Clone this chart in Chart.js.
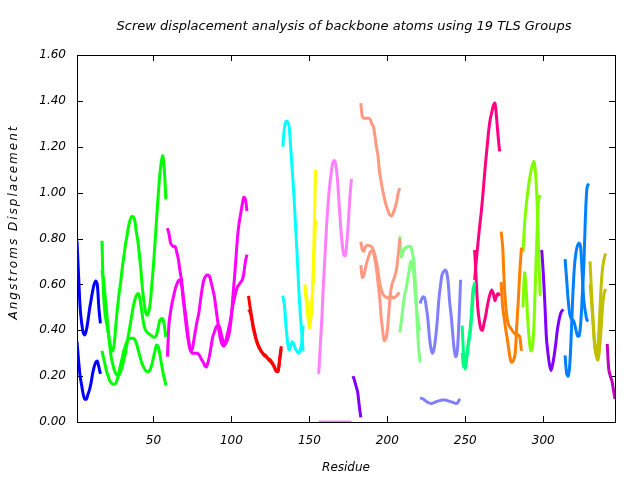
<!DOCTYPE html>
<html>
<head>
<meta charset="utf-8">
<script src="https://cdn.jsdelivr.net/npm/chart.js@4.4.1/dist/chart.umd.min.js"></script>
<style>
  html, body { margin: 0; padding: 0; background: #fff; }
  #wrap { width: 640px; height: 480px; }
</style>
</head>
<body>
<div id="wrap"><canvas id="chart"></canvas></div>
<script>
// texts and tick labels
const titleText = "Screw displacement analysis of backbone atoms using 19 TLS Groups"
const xTitle = "Residue"
const yTitle = "Angstroms Displacement"
const xTicks = [50, 100, 150, 200, 250, 300]
const yTicks = [0, 0.2, 0.4, 0.6, 0.8, 1.0, 1.2, 1.4, 1.6]

// group 1 (blue)
const res1 = [1,2,3,4,5,6,7,8,9,10,11,12,13,14,15,16]
const g1a = [0.79,0.64,0.50,0.43,0.39,0.38,0.40,0.44,0.49,0.53,0.57,0.60,0.615,0.60,0.50,0.43]
const g1b = [0.35,0.27,0.20,0.16,0.12,0.10,0.10,0.12,0.14,0.17,0.21,0.24,0.26,0.265,0.24,0.21]

// group 2 (green)
const res2 = [17,18,19,20,21,22,23,24,25,26,27,28,29,30,31,32,33,34,35,36,37,38,39,40,41,42,43,44,45,46,47,48,49,50,51,52,53,54,55,56,57,58]
const g2a = [0.79,0.56,0.47,0.43,0.39,0.35,0.315,0.31,0.35,0.43,0.50,0.56,0.61,0.67,0.72,0.77,0.81,0.85,0.88,0.895,0.895,0.88,0.83,0.79,0.73,0.66,0.58,0.52,0.48,0.465,0.48,0.52,0.60,0.68,0.78,0.88,0.98,1.07,1.13,1.16,1.10,0.97]
const g2b = [0.66,0.62,0.55,0.48,0.40,0.335,0.28,0.25,0.225,0.21,0.205,0.205,0.22,0.24,0.27,0.30,0.34,0.38,0.42,0.46,0.50,0.53,0.55,0.56,0.55,0.51,0.46,0.42,0.40,0.39,0.385,0.38,0.375,0.37,0.37,0.38,0.41,0.44,0.45,0.45,0.42,0.37]
const g2c = [0.31,0.28,0.25,0.22,0.20,0.18,0.17,0.165,0.165,0.17,0.19,0.22,0.25,0.28,0.31,0.33,0.35,0.36,0.365,0.365,0.365,0.36,0.345,0.32,0.295,0.27,0.25,0.235,0.225,0.22,0.22,0.23,0.25,0.28,0.31,0.335,0.33,0.30,0.26,0.22,0.19,0.16]

// group 3 (magenta)
const res3 = [59,60,61,62,63,64,65,66,67,68,69,70,71,72,73,74,75,76,77,78,79,80,81,82,83,84,85,86,87,88,89,90,91,92,93,94,95,96,97,98,99,100,101,102,103,104,105,106,107,108,109,110]
const g3a = [0.845,0.82,0.78,0.77,0.765,0.764,0.74,0.71,0.66,0.62,0.56,0.50,0.45,0.39,0.34,0.31,0.30,0.30,0.30,0.30,0.295,0.285,0.27,0.26,0.245,0.24,0.26,0.29,0.33,0.37,0.39,0.41,0.42,0.42,0.40,0.37,0.35,0.34,0.35,0.37,0.40,0.46,0.55,0.63,0.72,0.81,0.87,0.91,0.95,0.98,0.97,0.92]
const g3b = [0.285,0.43,0.48,0.52,0.55,0.58,0.60,0.615,0.62,0.60,0.54,0.48,0.42,0.37,0.33,0.31,0.32,0.36,0.40,0.44,0.47,0.52,0.57,0.61,0.63,0.64,0.64,0.635,0.61,0.58,0.55,0.50,0.45,0.40,0.36,0.34,0.33,0.34,0.37,0.40,0.43,0.47,0.51,0.54,0.57,0.59,0.60,0.61,0.62,0.65,0.70,0.73]

// group 4 (red)
const res4 = [111,112,113,114,115,116,117,118,119,120,121,122,123,124,125,126,127,128,129,130,131,132]
const g4a = [0.55,0.50,0.46,0.42,0.39,0.36,0.34,0.325,0.31,0.30,0.295,0.29,0.28,0.275,0.27,0.26,0.25,0.235,0.22,0.22,0.28,0.33]
const g4b = [0.49,0.48,0.45,0.41,0.38,0.355,0.335,0.32,0.31,0.30,0.29,0.285,0.28,0.27,0.265,0.255,0.245,0.23,0.22,0.225,0.27,0.32]

// group 5 (cyan)
const res5 = [133,134,135,136,137,138,139,140,141,142,143,144,145,146]
const g5a = [1.20,1.28,1.31,1.31,1.29,1.20,1.10,1.00,0.87,0.75,0.61,0.49,0.40,0.31]
const g5b = [0.55,0.51,0.42,0.35,0.315,0.33,0.35,0.34,0.32,0.31,0.30,0.31,0.34,0.42]

// group 6 (yellow)
const res6 = [147,148,149,150,151,152,153,154]
const g6a = [0.60,0.56,0.50,0.41,0.47,0.57,0.80,1.10]
const g6b = [0.58,0.53,0.46,0.43,0.45,0.55,0.72,0.88]

// group 7 (pink)
const res7 = [156,157,158,159,160,161,162,163,164,165,166,167,168,169,170,171,172,173,174,175,176,177]
const g7a = [0.21,0.33,0.45,0.60,0.72,0.85,0.95,1.03,1.085,1.13,1.14,1.12,1.06,0.96,0.86,0.78,0.73,0.725,0.78,0.87,0.98,1.06]
const g7b = [0,0,0,0,0,0,0,0,0,0,0,0,0,0,0,0,0,0,0,0,0,0]

// group 8 (purple)
const res8 = [178,179,180,181,182,183]
const g8a = [0.20,0.18,0.155,0.13,0.07,0.02]

// group 9 (salmon)
const res9 = [183,184,185,186,187,188,189,190,191,192,193,194,195,196,197,198,199,200,201,202,203,204,205,206,207,208]
const g9a = [1.39,1.33,1.324,1.324,1.324,1.324,1.32,1.30,1.29,1.25,1.20,1.16,1.09,1.05,1.01,0.98,0.95,0.93,0.91,0.90,0.90,0.915,0.935,0.96,1.00,1.02]
const g9b = [0.786,0.75,0.745,0.764,0.77,0.77,0.768,0.764,0.75,0.73,0.70,0.66,0.61,0.58,0.56,0.55,0.545,0.54,0.545,0.55,0.545,0.54,0.545,0.55,0.56,0.56]
const g9c = [0.684,0.63,0.64,0.67,0.70,0.72,0.74,0.745,0.74,0.71,0.67,0.61,0.55,0.46,0.40,0.355,0.36,0.40,0.48,0.56,0.60,0.62,0.64,0.67,0.73,0.80]

// group 10 (light green)
const res10 = [208,209,210,211,212,213,214,215,216,217,218,219,220,221]
const g10a = [0.81,0.72,0.74,0.757,0.76,0.765,0.765,0.764,0.74,0.70,0.60,0.45,0.33,0.26]
const g10b = [0.39,0.44,0.50,0.55,0.58,0.62,0.66,0.70,0.69,0.64,0.55,0.48,0.42,0.40]

// group 11 (slate blue)
const res11 = [221,222,223,224,225,226,227,228,229,230,231,232,233,234,235,236,237,238,239,240,241,242,243,244,245,246,247]
const g11a = [0.517,0.535,0.546,0.54,0.50,0.45,0.37,0.32,0.30,0.32,0.37,0.44,0.53,0.59,0.64,0.655,0.663,0.655,0.61,0.52,0.46,0.38,0.31,0.285,0.32,0.45,0.62]
const g11b = [0.103,0.103,0.10,0.095,0.09,0.085,0.083,0.081,0.082,0.085,0.088,0.09,0.092,0.094,0.096,0.096,0.096,0.094,0.092,0.09,0.088,0.086,0.083,0.081,0.083,0.096,0.096]

// group 12 (spring green)
const res12 = [248,249,250,251,252,253,254,255,256]
const g12a = [0.42,0.28,0.23,0.28,0.34,0.38,0.45,0.55,0.61]
const g12b = [0.30,0.24,0.25,0.30,0.35,0.40,0.48,0.58,0.60]

// group 13 (deep pink)
const res13 = [256,257,258,259,260,261,262,263,264,265,266,267,268,269,270,271,272]
const g13a = [0.75,0.62,0.50,0.44,0.405,0.40,0.43,0.46,0.50,0.535,0.56,0.576,0.56,0.53,0.55,0.56,0.55]
const g13b = [0.62,0.70,0.77,0.84,0.90,0.97,1.05,1.13,1.20,1.27,1.32,1.35,1.38,1.39,1.33,1.25,1.18]

// group 14 (orange)
const res14 = [273,274,275,276,277,278,279,280,281,282,283,284,285,286]
const g14a = [0.83,0.76,0.60,0.50,0.445,0.42,0.41,0.40,0.39,0.385,0.38,0.38,0.37,0.31]
const g14b = [0.61,0.50,0.45,0.40,0.36,0.31,0.27,0.26,0.27,0.30,0.42,0.53,0.66,0.76]

// group 15 (chartreuse)
const res15 = [287,288,289,290,291,292,293,294,295,296,297,298]
const g15a = [0.74,0.86,0.94,1.00,1.05,1.09,1.12,1.135,1.09,0.96,0.75,0.55]
const g15b = [0.50,0.65,0.58,0.45,0.36,0.31,0.32,0.42,0.62,0.82,0.97,0.99]

// group 16 (violet)
const res16 = [299,300,301,302,303,304,305,306,307,308,309,310,311,312,313]
const g16a = [0.75,0.65,0.52,0.37,0.30,0.25,0.225,0.25,0.29,0.34,0.40,0.44,0.47,0.485,0.49]

// group 17 (azure)
const res17 = [314,315,316,317,318,319,320,321,322,323,324,325,326,327,328,329]
const g17a = [0.71,0.62,0.53,0.47,0.45,0.445,0.43,0.40,0.375,0.375,0.43,0.55,0.68,0.89,1.02,1.04]
const g17b = [0.29,0.21,0.20,0.25,0.39,0.56,0.68,0.74,0.77,0.78,0.76,0.64,0.53,0.48,0.445,0.44]

// group 18 (olive)
const res18 = [330,331,332,333,334,335,336,337,338,339,340]
const g18a = [0.70,0.56,0.44,0.34,0.29,0.33,0.44,0.58,0.67,0.71,0.735]
const g18b = [0.60,0.52,0.42,0.33,0.29,0.27,0.31,0.40,0.50,0.56,0.58]

// group 19 (dark magenta)
const res19 = [341,342,343,344,345,346]
const g19a = [0.34,0.23,0.20,0.18,0.14,0.10]

const groups = [
  { color: "#0000ff", res: res1, curves: [g1a, g1b] },
  { color: "#00ff00", res: res2, curves: [g2a, g2b, g2c] },
  { color: "#ff00ff", res: res3, curves: [g3a, g3b] },
  { color: "#ff0000", res: res4, curves: [g4a, g4b] },
  { color: "#00ffff", res: res5, curves: [g5a, g5b] },
  { color: "#ffff00", res: res6, curves: [g6a, g6b] },
  { color: "#ff80ff", res: res7, curves: [g7a, g7b] },
  { color: "#8000ff", res: res8, curves: [g8a] },
  { color: "#ff9980", res: res9, curves: [g9a, g9b, g9c] },
  { color: "#80ff80", res: res10, curves: [g10a, g10b] },
  { color: "#8080ff", res: res11, curves: [g11a, g11b] },
  { color: "#00ff80", res: res12, curves: [g12a, g12b] },
  { color: "#ff0080", res: res13, curves: [g13a, g13b] },
  { color: "#ff8000", res: res14, curves: [g14a, g14b] },
  { color: "#80ff00", res: res15, curves: [g15a, g15b] },
  { color: "#8000ff", res: res16, curves: [g16a] },
  { color: "#0080ff", res: res17, curves: [g17a, g17b] },
  { color: "#c0c000", res: res18, curves: [g18a, g18b] },
  { color: "#c000c0", res: res19, curves: [g19a] }
]

const datasets = []
groups.forEach(g => {
  g.curves.forEach(vals => {
    datasets.push({
      data: g.res.map((r, i) => ({ x: r, y: vals[i] })),
      borderColor: g.color,
      borderWidth: 3,
      pointRadius: 0,
      tension: 0.3,
      fill: false
    })
  })
})

// gnuplot style box with inward ticks, title over the plot area and a spaced y label
const frame = {
  id: "frame",
  beforeDatasetsDraw(chart) {
    const { ctx, chartArea: a, scales: { x, y } } = chart
    ctx.save()
    ctx.strokeStyle = "#000"
    ctx.lineWidth = 1
    ctx.strokeRect(Math.round(a.left) + 0.5, Math.round(a.top) + 0.5, Math.round(a.width), Math.round(a.height))
    ctx.beginPath()
    x.ticks.forEach(t => {
      const px = Math.round(x.getPixelForValue(t.value)) + 0.5
      ctx.moveTo(px, a.bottom); ctx.lineTo(px, a.bottom - 6)
      ctx.moveTo(px, a.top); ctx.lineTo(px, a.top + 6)
    })
    y.ticks.forEach(t => {
      const py = Math.round(y.getPixelForValue(t.value)) + 0.5
      ctx.moveTo(a.left, py); ctx.lineTo(a.left + 6, py)
      ctx.moveTo(a.right, py); ctx.lineTo(a.right - 6, py)
    })
    ctx.stroke()

    ctx.fillStyle = "#000"
    ctx.font = "italic 13px 'DejaVu Sans'"
    ctx.textAlign = "center"
    ctx.textBaseline = "middle"
    ctx.fillText(titleText, (a.left + a.right) / 2 - 2, 27)

    ctx.translate(14, 222)
    ctx.rotate(-Math.PI / 2)
    ctx.font = "italic 12px 'DejaVu Sans'"
    if ("letterSpacing" in ctx) ctx.letterSpacing = "2px"
    ctx.fillText(yTitle, 0, 0)
    ctx.restore()
  }
}

const font = { family: "DejaVu Sans", size: 12, style: "italic" }
Chart.defaults.color = "#000"

new Chart(document.getElementById("chart"), {
  type: "line",
  data: { datasets },
  plugins: [frame],
  options: {
    responsive: true,
    maintainAspectRatio: false,
    animation: false,
    parsing: false,
    layout: { padding: { left: 0, right: 25, top: 55, bottom: 0 } },
    plugins: {
      legend: { display: false },
      tooltip: { enabled: false },
      title: { display: false }
    },
    scales: {
      x: {
        type: "linear",
        min: 1,
        max: 346,
        afterBuildTicks: s => { s.ticks = xTicks.map(v => ({ value: v })) },
        afterFit: s => { s.height = 58 },
        grid: { display: false, drawTicks: false },
        border: { display: false },
        ticks: { font, padding: 12, maxRotation: 0 },
        title: { display: true, text: xTitle, font, padding: { top: 4, bottom: 5 } }
      },
      y: {
        min: 0,
        max: 1.6,
        afterBuildTicks: s => { s.ticks = yTicks.map(v => ({ value: v })) },
        afterFit: s => { s.width = 77 },
        grid: { display: false, drawTicks: false },
        border: { display: false },
        ticks: { font, padding: 11, callback: v => v.toFixed(2) },
        title: { display: false }
      }
    }
  }
})
</script>
</body>
</html>
